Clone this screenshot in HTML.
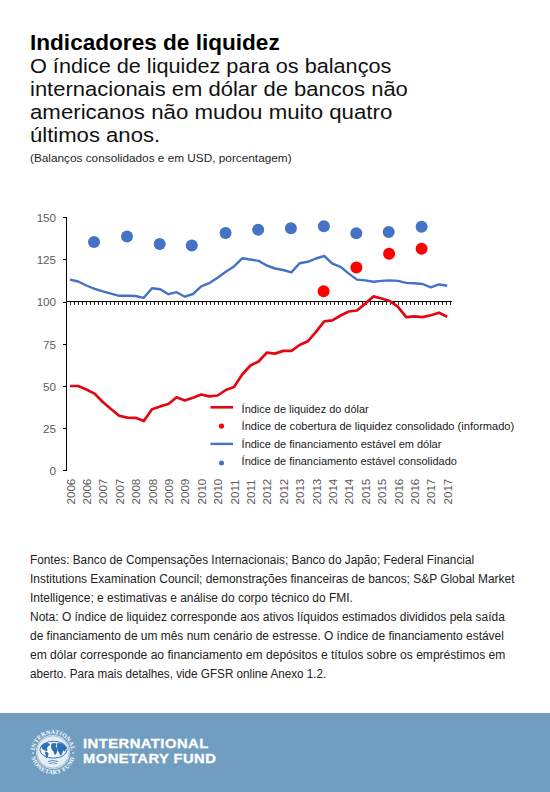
<!DOCTYPE html>
<html><head><meta charset="utf-8">
<style>
html,body{margin:0;padding:0;background:#fff;}
body{width:550px;height:792px;position:relative;overflow:hidden;font-family:"Liberation Sans",sans-serif;}
.t{position:absolute;left:30px;white-space:nowrap;color:#1f1f1f;transform-origin:0 0;}
.title{color:#000;font-size:22.4px;font-weight:bold;line-height:26px;}
.sub{color:#111;font-size:20.5px;line-height:22.9px;}
.note{font-size:11.3px;line-height:16px;}
.foot{font-size:12px;line-height:18.9px;color:#222;}
#band{position:absolute;left:0;top:713px;width:550px;height:80px;background:#719EC0;}
.imf{position:absolute;left:83px;color:#fff;font-weight:bold;font-size:12.3px;line-height:14px;letter-spacing:0.4px;white-space:nowrap;-webkit-text-stroke:0.3px #fff;transform-origin:0 0;}
</style></head><body>
<div class="t title" style="top:29.70px;transform:scaleX(1.0085)">Indicadores de liquidez</div>
<div class="t sub" style="top:55.00px;transform:scaleX(1.057)">O índice de liquidez para os balanços</div>
<div class="t sub" style="top:77.90px;transform:scaleX(1.073)">internacionais em dólar de bancos não</div>
<div class="t sub" style="top:100.80px;transform:scaleX(1.085)">americanos não mudou muito quatro</div>
<div class="t sub" style="top:123.70px;transform:scaleX(1.077)">últimos anos.</div>
<div class="t note" style="top:149.90px;transform:scaleX(1.044)">(Balanços consolidados e em USD, porcentagem)</div>
<svg width="550" height="792" style="position:absolute;left:0;top:0">
<g stroke="#000" stroke-width="1" fill="none" shape-rendering="crispEdges">
<path d="M66.5 217.6V471.3M66.5 301.5H451.7"/>
<path d="M63.4 217.6h3.1 M63.4 259.8h3.1 M63.4 302.0h3.1 M63.4 344.3h3.1 M63.4 386.5h3.1 M63.4 428.7h3.1 M63.4 470.9h3.1"/>
<path d="M70.50 301.5v3.6 M74.50 301.5v3.6 M78.50 301.5v3.6 M82.50 301.5v3.6 M86.50 301.5v3.6 M90.50 301.5v3.6 M94.50 301.5v3.6 M98.50 301.5v3.6 M102.50 301.5v3.6 M106.50 301.5v3.6 M110.50 301.5v3.6 M114.50 301.5v3.6 M118.50 301.5v3.6 M122.50 301.5v3.6 M126.50 301.5v3.6 M130.50 301.5v3.6 M134.50 301.5v3.6 M138.50 301.5v3.6 M142.50 301.5v3.6 M146.50 301.5v3.6 M150.50 301.5v3.6 M154.50 301.5v3.6 M158.50 301.5v3.6 M162.50 301.5v3.6 M166.50 301.5v3.6 M170.50 301.5v3.6 M174.50 301.5v3.6 M178.50 301.5v3.6 M182.50 301.5v3.6 M186.50 301.5v3.6 M190.50 301.5v3.6 M194.50 301.5v3.6 M198.50 301.5v3.6 M202.50 301.5v3.6 M206.50 301.5v3.6 M210.50 301.5v3.6 M214.50 301.5v3.6 M218.50 301.5v3.6 M222.50 301.5v3.6 M226.50 301.5v3.6 M230.50 301.5v3.6 M234.50 301.5v3.6 M238.50 301.5v3.6 M242.50 301.5v3.6 M246.50 301.5v3.6 M250.50 301.5v3.6 M254.50 301.5v3.6 M258.50 301.5v3.6 M262.50 301.5v3.6 M266.50 301.5v3.6 M270.50 301.5v3.6 M274.50 301.5v3.6 M278.50 301.5v3.6 M282.50 301.5v3.6 M286.50 301.5v3.6 M290.50 301.5v3.6 M294.50 301.5v3.6 M298.50 301.5v3.6 M302.50 301.5v3.6 M306.50 301.5v3.6 M310.50 301.5v3.6 M314.50 301.5v3.6 M318.50 301.5v3.6 M322.50 301.5v3.6 M326.50 301.5v3.6 M330.50 301.5v3.6 M334.50 301.5v3.6 M338.50 301.5v3.6 M342.50 301.5v3.6 M346.50 301.5v3.6 M350.50 301.5v3.6 M354.50 301.5v3.6 M358.50 301.5v3.6 M362.50 301.5v3.6 M366.50 301.5v3.6 M370.50 301.5v3.6 M374.50 301.5v3.6 M378.50 301.5v3.6 M382.50 301.5v3.6 M386.50 301.5v3.6 M390.50 301.5v3.6 M394.50 301.5v3.6 M398.50 301.5v3.6 M402.50 301.5v3.6 M406.50 301.5v3.6 M410.50 301.5v3.6 M414.50 301.5v3.6 M418.50 301.5v3.6 M422.50 301.5v3.6 M426.50 301.5v3.6 M430.50 301.5v3.6 M434.50 301.5v3.6 M438.50 301.5v3.6 M442.50 301.5v3.6 M446.50 301.5v3.6 M450.50 301.5v3.6" stroke="#2a2a2a"/>
</g>
<g font-family="Liberation Sans, sans-serif" font-size="11.6" fill="#5a5a5a">
<text x="56" y="221.9" text-anchor="end">150</text><text x="56" y="264.1" text-anchor="end">125</text><text x="56" y="306.3" text-anchor="end">100</text><text x="56" y="348.6" text-anchor="end">75</text><text x="56" y="390.8" text-anchor="end">50</text><text x="56" y="433.0" text-anchor="end">25</text><text x="56" y="475.2" text-anchor="end">0</text>
<text transform="translate(74.5,504.5) rotate(-90)">2006</text><text transform="translate(90.9,504.5) rotate(-90)">2006</text><text transform="translate(107.3,504.5) rotate(-90)">2007</text><text transform="translate(123.7,504.5) rotate(-90)">2007</text><text transform="translate(140.1,504.5) rotate(-90)">2008</text><text transform="translate(156.5,504.5) rotate(-90)">2008</text><text transform="translate(172.9,504.5) rotate(-90)">2009</text><text transform="translate(189.3,504.5) rotate(-90)">2009</text><text transform="translate(205.7,504.5) rotate(-90)">2010</text><text transform="translate(222.1,504.5) rotate(-90)">2010</text><text transform="translate(238.5,504.5) rotate(-90)">2011</text><text transform="translate(254.9,504.5) rotate(-90)">2011</text><text transform="translate(271.3,504.5) rotate(-90)">2012</text><text transform="translate(287.7,504.5) rotate(-90)">2012</text><text transform="translate(304.1,504.5) rotate(-90)">2013</text><text transform="translate(320.5,504.5) rotate(-90)">2013</text><text transform="translate(336.9,504.5) rotate(-90)">2014</text><text transform="translate(353.3,504.5) rotate(-90)">2014</text><text transform="translate(369.7,504.5) rotate(-90)">2015</text><text transform="translate(386.1,504.5) rotate(-90)">2015</text><text transform="translate(402.5,504.5) rotate(-90)">2016</text><text transform="translate(418.9,504.5) rotate(-90)">2016</text><text transform="translate(435.3,504.5) rotate(-90)">2017</text><text transform="translate(451.7,504.5) rotate(-90)">2017</text>
</g>
<polyline points="70.0,279.6 78.2,281.5 86.4,285.5 94.6,288.8 102.8,291.3 111.0,293.6 119.2,295.8 127.4,295.8 135.6,296.0 143.8,297.8 152.0,288.2 160.2,289.3 168.4,294.2 176.6,292.2 184.8,296.7 193.0,294.0 201.2,286.4 209.4,283.1 217.6,277.8 225.8,271.8 234.0,266.4 242.2,258.3 250.4,259.5 258.6,260.9 266.8,265.5 275.0,268.5 283.2,270.0 291.4,272.4 299.6,263.3 307.8,261.8 316.0,258.5 324.2,256.0 332.4,263.6 340.6,266.9 348.8,273.6 357.0,279.6 365.2,280.4 373.4,281.8 381.6,280.9 389.8,280.4 398.0,280.9 406.2,282.9 414.4,283.3 422.6,284.0 430.8,287.4 439.0,284.4 447.2,285.8" fill="none" stroke="#4472C4" stroke-width="2.4" stroke-linejoin="round"/>
<polyline points="70.0,386.0 78.2,386.0 86.4,389.5 94.6,393.6 102.8,402.0 111.0,409.0 119.2,415.8 127.4,417.6 135.6,417.8 143.8,421.0 152.0,409.3 160.2,406.4 168.4,404.0 176.6,397.3 184.8,400.5 193.0,397.8 201.2,394.5 209.4,396.4 217.6,395.5 225.8,390.0 234.0,387.0 242.2,374.5 250.4,365.5 258.6,361.5 266.8,352.7 275.0,353.6 283.2,350.9 291.4,350.9 299.6,345.0 307.8,341.3 316.0,331.8 324.2,321.4 332.4,320.4 340.6,315.5 348.8,311.5 357.0,310.5 365.2,303.6 373.4,296.4 381.6,298.5 389.8,301.0 398.0,306.8 406.2,317.2 414.4,316.4 422.6,317.1 430.8,315.3 439.0,312.7 447.2,316.8" fill="none" stroke="#E30613" stroke-width="2.7" stroke-linejoin="round"/>
<g fill="#4472C4"><circle cx="94" cy="242" r="6"/><circle cx="127" cy="236.4" r="6"/><circle cx="159.7" cy="244" r="6"/><circle cx="191.8" cy="245.5" r="6"/><circle cx="225.6" cy="233.1" r="6"/><circle cx="258.2" cy="229.7" r="6"/><circle cx="290.9" cy="228.2" r="6"/><circle cx="323.9" cy="226.3" r="6"/><circle cx="356.3" cy="233.3" r="6"/><circle cx="388.7" cy="231.9" r="6"/><circle cx="421.6" cy="226.8" r="6"/></g>
<g fill="#FF0000"><circle cx="323.6" cy="291.3" r="6"/><circle cx="356.4" cy="267.6" r="6"/><circle cx="389.1" cy="253.7" r="6"/><circle cx="421.6" cy="248.8" r="6"/></g>
<path d="M210.5 407.3H233.1" stroke="#E30613" stroke-width="2.6"/>
<circle cx="221.5" cy="426.1" r="2.6" fill="#FF0000"/>
<path d="M210.5 443.9H233.1" stroke="#4472C4" stroke-width="2.4"/>
<circle cx="221.5" cy="463" r="2.5" fill="#4472C4"/>
<g font-family="Liberation Sans, sans-serif" font-size="11" fill="#1a1a1a">
<text x="241.6" y="412.5" textLength="127.1" lengthAdjust="spacingAndGlyphs">Índice de liquidez do dólar</text>
<text x="241.6" y="430" textLength="272.6" lengthAdjust="spacingAndGlyphs">Índice de cobertura de liquidez consolidado (informado)</text>
<text x="241.6" y="447.6" textLength="199.8" lengthAdjust="spacingAndGlyphs">Índice de financiamento estável em dólar</text>
<text x="241.6" y="465" textLength="215.3" lengthAdjust="spacingAndGlyphs">Índice de financiamento estável consolidado</text>
</g>
</svg>
<div class="t foot" style="top:551.20px;transform:scaleX(0.985)">Fontes: Banco de Compensações Internacionais; Banco do Japão; Federal Financial</div>
<div class="t foot" style="top:570.10px;transform:scaleX(0.994)">Institutions Examination Council; demonstrações financeiras de bancos; S&amp;P Global Market</div>
<div class="t foot" style="top:589.00px;transform:scaleX(0.996)">Intelligence; e estimativas e análise do corpo técnico do FMI.</div>
<div class="t foot" style="top:607.90px;transform:scaleX(0.997)">Nota: O índice de liquidez corresponde aos ativos líquidos estimados divididos pela saída</div>
<div class="t foot" style="top:626.80px;transform:scaleX(0.995)">de financiamento de um mês num cenário de estresse. O índice de financiamento estável</div>
<div class="t foot" style="top:645.70px;transform:scaleX(1.005)">em dólar corresponde ao financiamento em depósitos e títulos sobre os empréstimos em</div>
<div class="t foot" style="top:664.60px;transform:scaleX(0.974)">aberto. Para mais detalhes, vide GFSR online Anexo 1.2.</div>
<div id="band"></div>
<svg width="60" height="60" viewBox="22.5 721.5 60 60" style="position:absolute;left:22.5px;top:721.5px">
<defs>
<path id="arcT" d="M34.3 751.5 A18.2 18.2 0 0 1 70.7 751.5"/>
<path id="arcB" d="M30.3 751.5 A22.2 22.2 0 0 0 74.7 751.5"/>
</defs>
<circle cx="52.5" cy="751.5" r="17" fill="#E4EDF4"/>
<circle cx="52.5" cy="751.5" r="16.2" fill="none" stroke="#8AAFD0" stroke-width="0.7"/>
<ellipse cx="53" cy="749.2" rx="13.6" ry="8.4" fill="#F4F8FB" stroke="#3A74B2" stroke-width="1"/>
<path d="M40.5 746 q2 -3.5 6 -3.5 q3 0 3 2 q-2 1 -3 3 q1 2 0 3 q-2 0 -3 -1 q-2 -1 -3 -3.5z M45 751 q2 0 3 2 q0 3 -2 5 q-1 -2 -1 -4 q-1 -2 0 -3z" fill="#2E6FB3"/>
<path d="M51 743 q3 -1 5 0 q0 2 -1 3 q2 1 2 3 q0 3 -2 5.5 q-2 -1 -2 -3.5 q-1 -1 -2 -2.5 q-1 -3 0 -5.5z" fill="#2E6FB3"/>
<path d="M57 742.5 q5 -0.5 8.5 3.5 q0.5 3 -1 5 q-1 0 -2 -1 q0 3 -2 5 q-2 -1 -2 -3 q-1 -1 -1.5 -3 q-1.5 -3 0 -6.5z" fill="#2E6FB3"/>
<path d="M47.5 761 q5 -2 10 0 M48.5 763 q4 -1.5 8 0" fill="none" stroke="#3B74B0" stroke-width="0.8"/>
<text font-family="Liberation Serif, serif" font-weight="bold" font-size="6.1" fill="#fff" letter-spacing="0.15"><textPath href="#arcT" startOffset="50%" text-anchor="middle">INTERNATIONAL</textPath></text>
<text font-family="Liberation Serif, serif" font-weight="bold" font-size="6.1" fill="#fff" letter-spacing="0.35"><textPath href="#arcB" startOffset="50%" text-anchor="middle">MONETARY FUND</textPath></text>
<circle cx="32.5" cy="752.5" r="0.8" fill="#fff"/>
<circle cx="72.5" cy="752.5" r="0.8" fill="#fff"/>
</svg>
<div class="imf" style="top:737.2px;transform:scaleX(1.2)">INTERNATIONAL</div>
<div class="imf" style="top:752px;transform:scaleX(1.195)">MONETARY FUND</div>
</body></html>
